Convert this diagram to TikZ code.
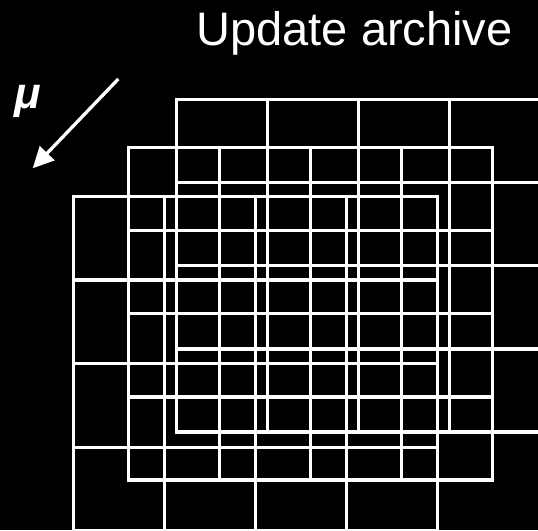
\documentclass[tikz,border=0pt]{standalone}
\usepackage{fontspec}
\setmainfont{Liberation Sans}
\usetikzlibrary{arrows.meta}
\tikzset{
  gridline/.style={draw=white, line width=3.3pt},
  arrowline/.style={draw=white, line width=3.3pt, -{Triangle[length=21pt,width=20pt]}},
  titletext/.style={text=white, inner sep=0pt, anchor=base west, font=\fontsize{47}{56}\selectfont},
  mutext/.style={text=white, inner sep=0pt, anchor=base west, font=\fontsize{44}{52}\selectfont\bfseries\itshape}
}
\begin{document}
\begin{tikzpicture}[x=1pt,y=-1pt]
\fill[black] (0,0) rectangle (538,530);
\useasboundingbox (0,0) rectangle (538,530);
\begin{scope}
\clip (0,0) rectangle (538,530);
\foreach \x/\y/\h in {176.7/99.3/83.2, 128.5/147.3/83.2, 73.3/196.5/83.55} {
  \draw[gridline] (\x,\y) rectangle ++(364,{4*\h});
  \foreach \i in {1,2,3} {
    \draw[gridline] ({\x+\i*91},\y) -- ++(0,{4*\h});
    \draw[gridline] (\x,{\y+\i*\h}) -- ++(364,0);
  }
}
\end{scope}
\node[titletext] (title) at (196.3,45) {Update archive};
\node[mutext] (mu) at (14,108.8) {μ};
\coordinate (arrS) at (118.3,79);
\coordinate (arrE) at (32.7,168.3);
\draw[arrowline] (arrS) -- (arrE);
\end{tikzpicture}
\end{document}
